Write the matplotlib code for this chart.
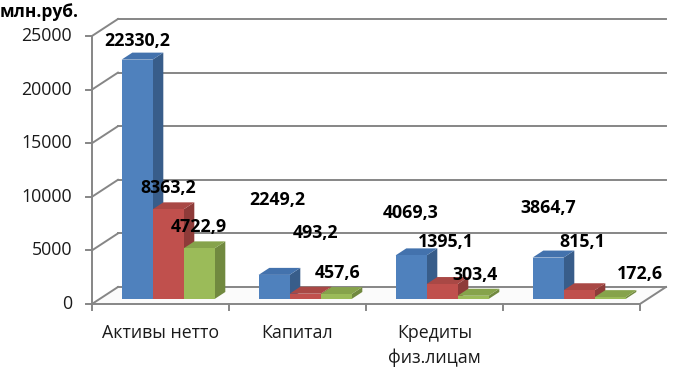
import numpy as np
import matplotlib
matplotlib.use("Agg")
import matplotlib.pyplot as plt
from matplotlib.patches import Polygon
from matplotlib.lines import Line2D
import matplotlib.transforms as mtransforms

plt.rcParams['font.family'] = ['Open Sans', 'DejaVu Sans']

categories = ['Активы нетто', 'Капитал', 'Кредиты\nфиз.лицам', '']
series_1 = [22330.2, 2249.2, 4069.3, 3864.7]
series_2 = [8363.2, 493.2, 1395.1, 815.1]
series_3 = [4722.9, 457.6, 303.4, 172.6]
y_ticks = [0, 5000, 10000, 15000, 20000, 25000]
unit_label = 'млн.руб.'

series = [series_1, series_2, series_3]
front_cols = ['#4f81bd', '#c0504d', '#9bbb59']
side_cols = ['#385d8a', '#8e3b39', '#71893f']
top_cols = ['#4372ad', '#a94845', '#86a34b']

# value label offsets (pixels) from the top centre of each bar
label_off = [[(0, 19), (3, 75), (0, 42), (0, 50)],
             [(0, 21), (10, 61), (4, 42), (3, 48)],
             [(0, 21), (2, 21), (2, 21), (30, 23)]]

W, H = 674, 367
fig = plt.figure(figsize=(W / 100, H / 100), dpi=100)
ax = fig.add_axes([99.6 / W, 68 / H, 548 / W, 268 / H])
ax.set_xlim(0, len(categories))
ax.set_ylim(0, 25000)
ax.set_axis_off()
ax.set_zorder(5)

K = 1.53  # horizontal shift per pixel of depth
Z_FRONT, Z_BAR, Z_BACK = -5, 7, 12
ident = mtransforms.IdentityTransform()
grid_c = '#868686'


def P(x, y, dz):
    X, Y = ax.transData.transform((x, y))
    return (X + K * dz, Y + dz)


def line(p, q, lw=1.4, z=1):
    fig.add_artist(Line2D([p[0], q[0]], [p[1], q[1]], transform=ident,
                          color=grid_c, lw=lw, zorder=z))


n = len(categories)
# back wall + side wall gridlines, left axis
for v in y_ticks:
    line(P(0, v, Z_BACK), P(n, v, Z_BACK))
    line(P(0, v, Z_FRONT), P(0, v, Z_BACK))
    fx, fy = P(0, v, Z_FRONT)
    line((fx - 6, fy), (fx, fy))
    fig.text(fx - 20, fy, f'{v}', ha='right', va='center', fontsize=12.8,
             transform=ident, color='#1a1a1a')
line(P(0, 0, Z_FRONT), P(0, 25000, Z_FRONT))

# floor
floor = Polygon([P(0, 0, Z_FRONT), P(n, 0, Z_FRONT), P(n, 0, Z_BACK), P(0, 0, Z_BACK)],
                closed=True, transform=ident, facecolor='#fbfbfb', edgecolor='none', zorder=0.5)
fig.add_artist(floor)
line(P(0, 0, Z_FRONT), P(n, 0, Z_FRONT))
line(P(n, 0, Z_FRONT), P(n, 0, Z_BACK))
for i in range(n + 1):
    bx, by = P(i, 0, Z_FRONT)
    line((bx, by), (bx, by - 6))

# category labels
for i, c in enumerate(categories):
    cx, cy = P(i + 0.5, 0, Z_FRONT)
    fig.text(cx, cy - 20, c, ha='center', va='top', fontsize=12.8,
             linespacing=1.45, transform=ident, color='#1a1a1a')

# bars
w = 31 / 137
for j, vals in enumerate(series):
    xs = np.arange(n) + 0.5 + (j - 1) * w
    ax.bar(xs, vals, width=w, color=front_cols[j], zorder=4 + 2 * j, clip_on=False)
    for i, v in enumerate(vals):
        x0, x1 = xs[i] - w / 2, xs[i] + w / 2
        side = Polygon([P(x1, 0, 0), P(x1, 0, Z_BAR), P(x1, v, Z_BAR), P(x1, v, 0)],
                       closed=True, transform=ident, facecolor=side_cols[j],
                       edgecolor='none', zorder=3 + 2 * j)
        top = Polygon([P(x0, v, 0), P(x1, v, 0), P(x1, v, Z_BAR), P(x0, v, Z_BAR)],
                      closed=True, transform=ident, facecolor=top_cols[j],
                      edgecolor='none', zorder=3 + 2 * j)
        ax.add_artist(side)
        ax.add_artist(top)
        side.set_clip_on(False)
        top.set_clip_on(False)
        dx, dy = label_off[j][i]
        ax.annotate(f'{v:.1f}'.replace('.', ','), xy=(xs[i], v), xytext=(dx, dy),
                    textcoords='offset pixels', ha='center', va='center',
                    fontsize=12.8, fontweight='bold', zorder=20, annotation_clip=False)

fig.text(0, H - 12, unit_label, ha='left', va='center', fontsize=12.5,
         fontweight='bold', transform=ident)

fig.savefig('out.png', dpi=100)
